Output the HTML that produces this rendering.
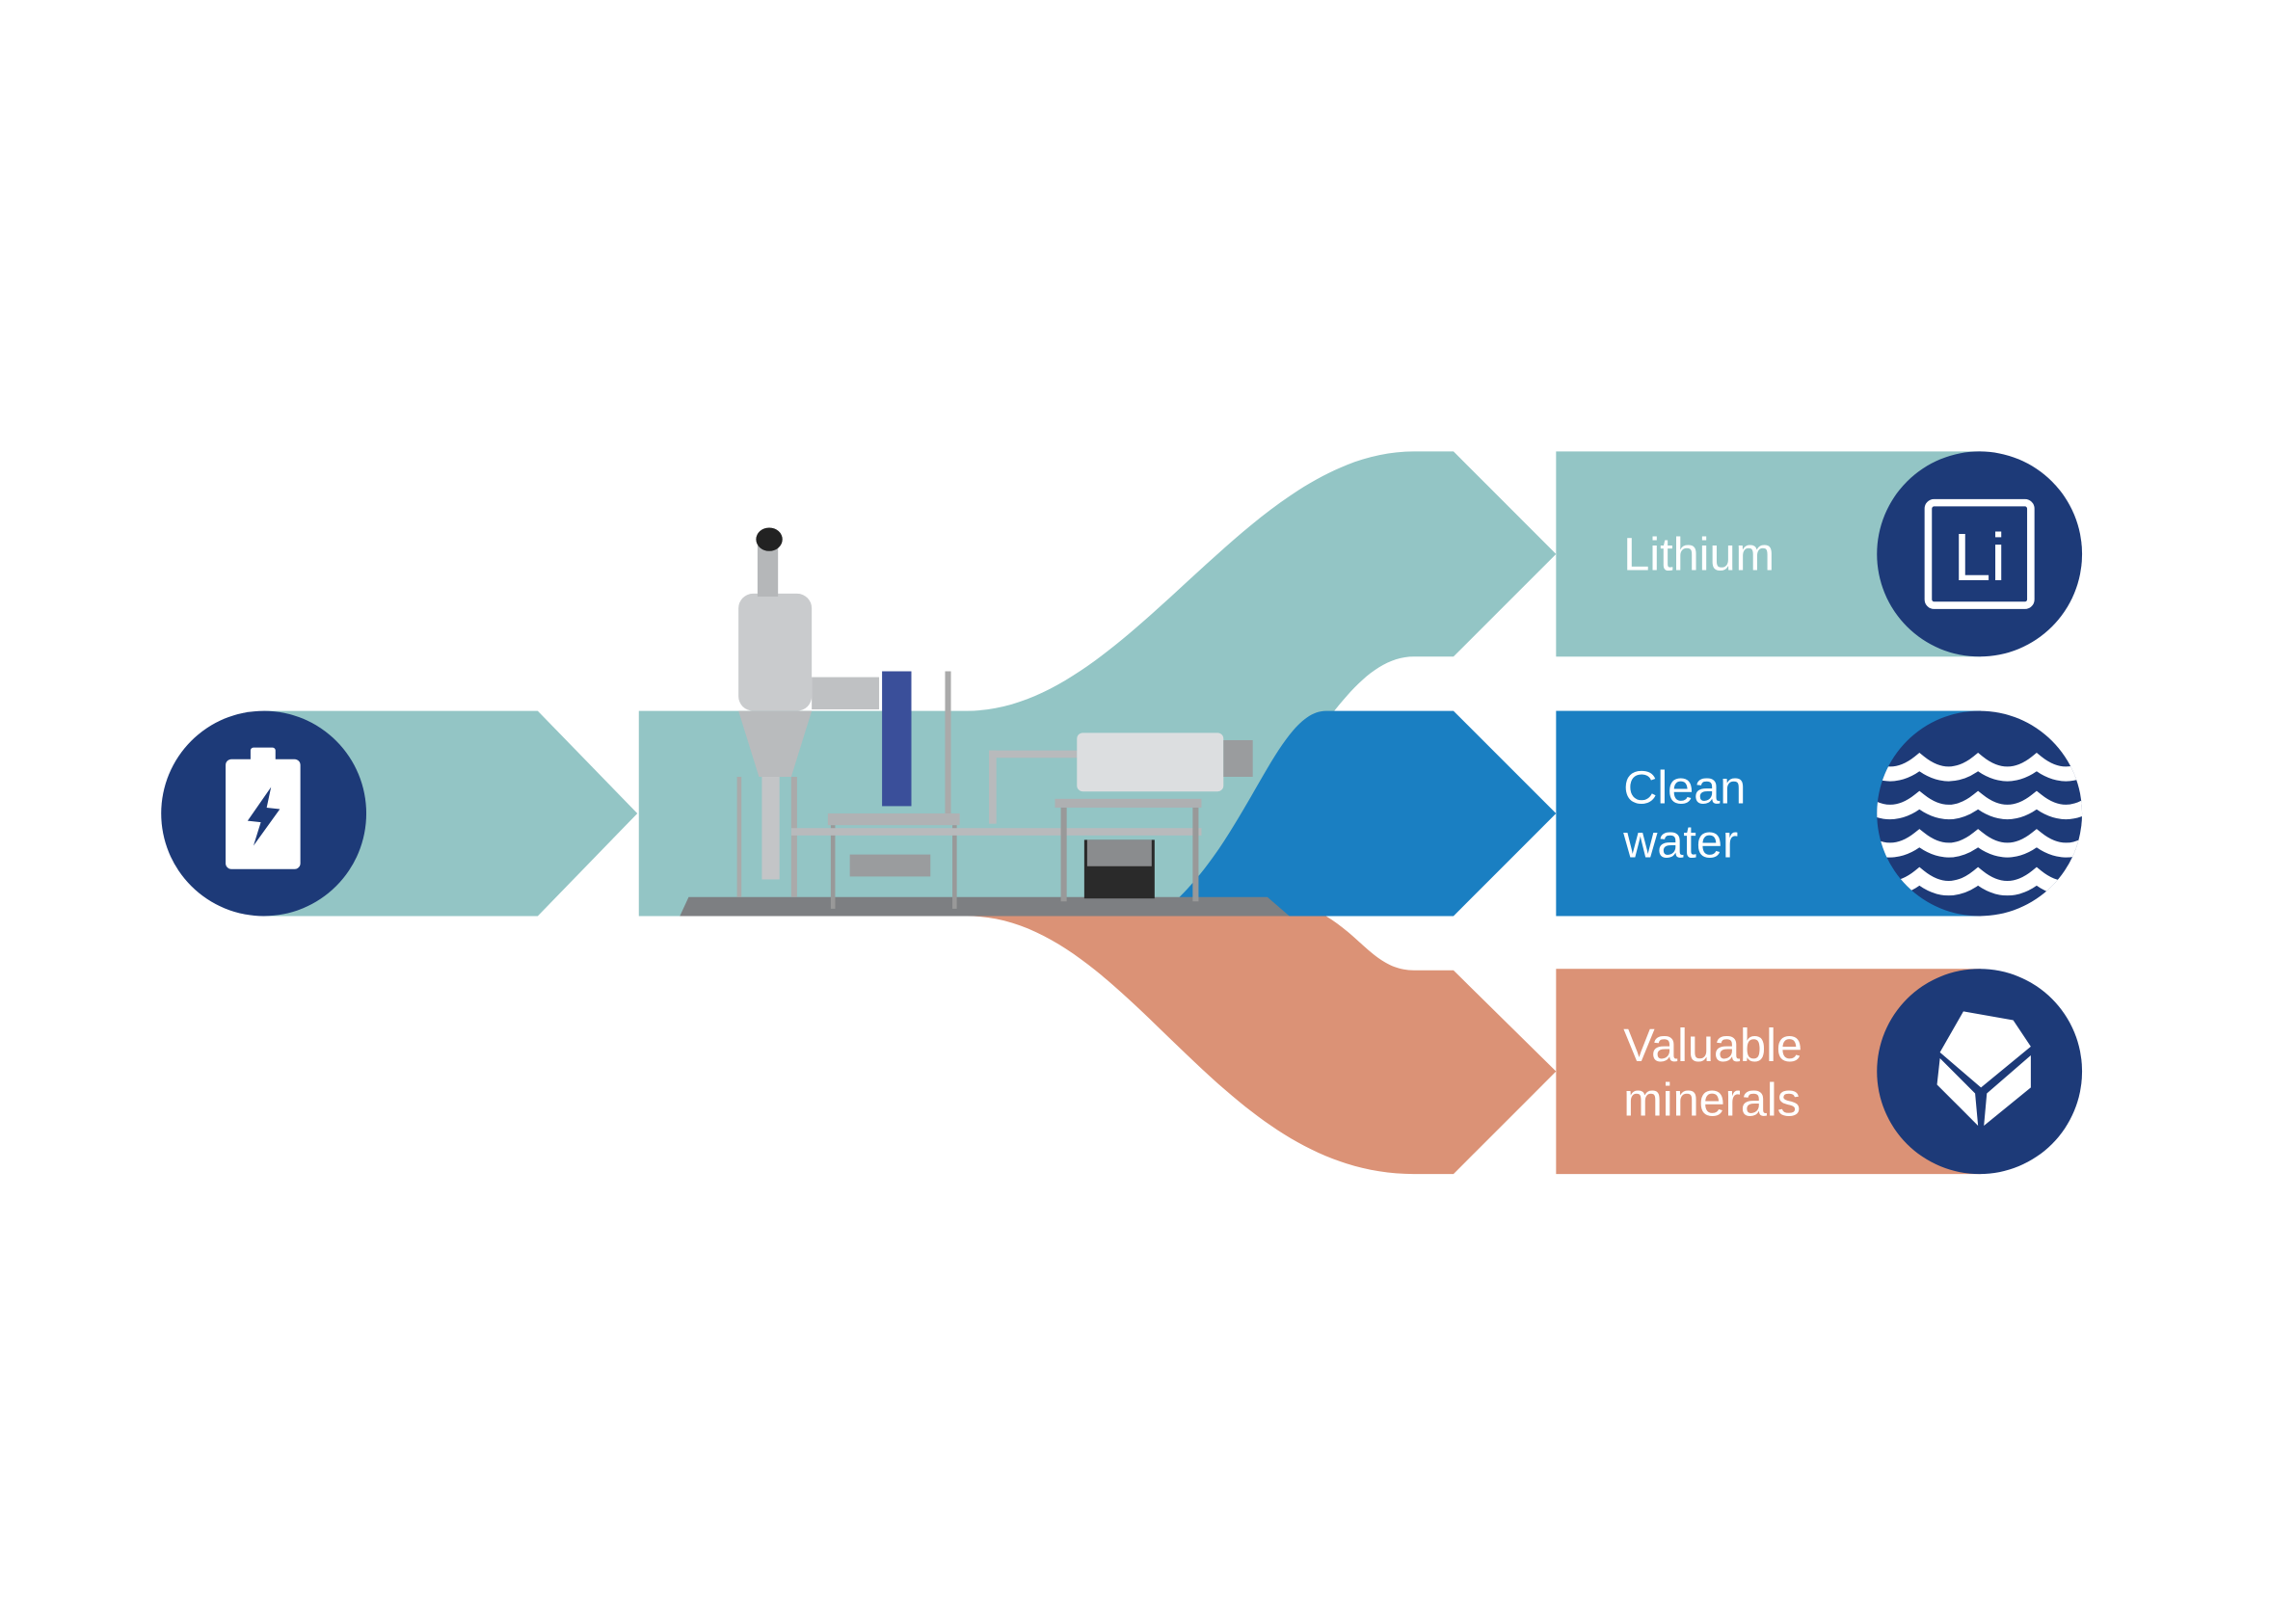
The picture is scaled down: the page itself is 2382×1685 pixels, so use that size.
<!DOCTYPE html>
<html><head><style>html,body{margin:0;padding:0;background:#fff}svg{display:block}</style></head>
<body>
<svg width="2382" height="1685" viewBox="0 0 1567 1108" preserveAspectRatio="none" xmlns="http://www.w3.org/2000/svg">
<rect width="1567" height="1108" fill="#fff"/>
<!-- input arrow -->
<path d="M180,485 L367,485 L435,555 L367,625 L180,625 Z" fill="#93c5c5"/>
<circle cx="180" cy="555" r="70" fill="#1d3a78"/>
<rect x="154" y="518" width="51" height="75" rx="4" fill="#fff"/>
<rect x="171" y="510" width="17" height="10" rx="2" fill="#fff"/>
<path d="M185,537 L169,560 L178,561 L173,577 L191,552 L182,551 Z" fill="#1d3a78"/>
<!-- teal flow -->
<path d="M436,485 L660,485 C770,485 850,308 965,308 L992,308 L1062,378 L992,448 L965,448 C910,448 880,560 790,625 L436,625 Z" fill="#93c5c5"/>
<!-- blue -->
<path d="M905,485 L992,485 L1062,555 L992,625 L790,625 C850,580 870,485 905,485 Z" fill="#1a7fc2"/>
<!-- orange -->
<path d="M660,625 L905,625 C930,640 940,662 965,662 L992,662 L1062,731 L992,801 L965,801 C830,801 770,625 660,625 Z" fill="#db9276"/>
<!-- machine simplified -->
<g>
<polygon points="470,612 865,612 880,625 464,625" fill="#7d7f82"/>
<rect x="504" y="405" width="50" height="80" rx="10" fill="#c9cbcd"/>
<polygon points="504,485 554,485 540,530 518,530" fill="#b9bbbd"/>
<rect x="517" y="372" width="14" height="35" fill="#b5b7b9"/>
<ellipse cx="525" cy="368" rx="9" ry="8" fill="#222"/>
<rect x="554" y="462" width="46" height="22" fill="#bfc1c3"/>
<rect x="602" y="458" width="20" height="92" fill="#3a4f9a"/>
<rect x="645" y="458" width="4" height="100" fill="#aaa"/>
<rect x="503" y="530" width="3" height="82" fill="#aaa"/>
<rect x="540" y="530" width="4" height="82" fill="#aaa"/>
<rect x="520" y="530" width="12" height="70" fill="#c3c5c7"/>
<rect x="565" y="555" width="90" height="8" fill="#b0b2b4"/>
<rect x="567" y="563" width="3" height="57" fill="#999"/>
<rect x="650" y="563" width="3" height="57" fill="#999"/>
<rect x="540" y="565" width="280" height="5" fill="#b8babc"/>
<rect x="675" y="512" width="5" height="50" fill="#b8babc"/>
<rect x="675" y="512" width="60" height="5" fill="#b8babc"/>
<rect x="735" y="500" width="100" height="40" rx="4" fill="#dcdee0"/>
<rect x="835" y="505" width="20" height="25" fill="#9a9c9e"/>
<rect x="720" y="545" width="100" height="6" fill="#aeb0b2"/>
<rect x="724" y="551" width="4" height="64" fill="#999"/>
<rect x="814" y="551" width="4" height="64" fill="#999"/>
<rect x="740" y="573" width="48" height="40" fill="#2a2a2a"/>
<rect x="742" y="573" width="44" height="18" fill="#8a8c8e"/>
<rect x="580" y="583" width="55" height="15" fill="#9a9c9e"/>
</g>
<!-- right boxes -->
<rect x="1062" y="308" width="290" height="140" fill="#93c5c5"/>
<rect x="1062" y="485" width="290" height="140" fill="#1a7fc2"/>
<rect x="1062" y="661" width="290" height="140" fill="#db9276"/>
<g font-family="Liberation Sans, sans-serif" font-size="32" fill="#fff">
<text x="1108" y="389">Lithium</text>
<text x="1108" y="548">Clean</text>
<text x="1108" y="585">water</text>
<text x="1108" y="724">Valuable</text>
<text x="1108" y="761">minerals</text>
</g>
<circle cx="1351" cy="378" r="70" fill="#1d3a78"/>
<rect x="1316" y="343" width="70" height="70" rx="4" fill="none" stroke="#fff" stroke-width="5"/>
<text x="1351" y="396" font-family="Liberation Sans, sans-serif" font-size="46" fill="#fff" text-anchor="middle">Li</text>
<clipPath id="c2"><circle cx="1351" cy="555" r="70"/></clipPath>
<circle cx="1351" cy="555" r="70" fill="#1d3a78"/>
<g clip-path="url(#c2)" fill="none" stroke="#fff" stroke-width="10">
<path d="M1270,520 q20,16 40,0 q20,16 40,0 q20,16 40,0 q20,16 40,0"/>
<path d="M1270,546 q20,16 40,0 q20,16 40,0 q20,16 40,0 q20,16 40,0"/>
<path d="M1270,572 q20,16 40,0 q20,16 40,0 q20,16 40,0 q20,16 40,0"/>
<path d="M1270,598 q20,16 40,0 q20,16 40,0 q20,16 40,0 q20,16 40,0"/>
</g>
<circle cx="1351" cy="731" r="70" fill="#1d3a78"/>
<path d="M1340,690 L1374,696 L1386,714 L1352,742 L1324,718 Z" fill="#fff"/>
<path d="M1324,722 L1348,746 L1350,768 L1322,740 Z" fill="#fff"/>
<path d="M1356,746 L1386,720 L1386,742 L1354,768 Z" fill="#fff"/>
</svg>
</body></html>
